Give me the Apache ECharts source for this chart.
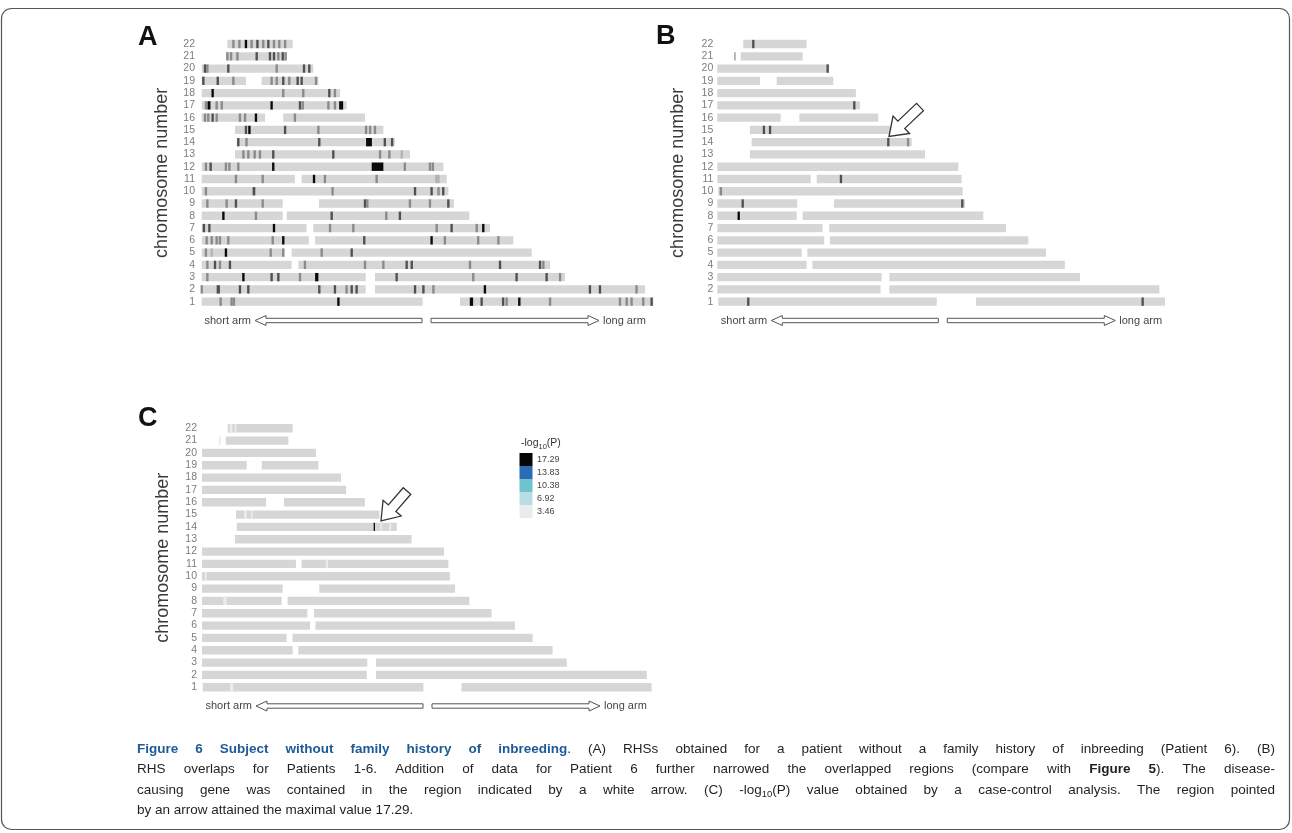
<!DOCTYPE html>
<html><head><meta charset="utf-8">
<script src="https://cdn.jsdelivr.net/npm/echarts@6/dist/echarts.min.js"></script>
<style>html,body{margin:0;padding:0;background:#fff}#c{width:1292px;height:833px}</style>
</head><body><div id="c"></div>
<script>
// ---------- DATA ----------
const chromosomes = ['1','2','3','4','5','6','7','8','9','10','11','12','13','14','15','16','17','18','19','20','21','22'];

// [chromosome, start Mb, end Mb]
const aSegments = [
[1,0.4,121.8],[1,142.3,248.5],[2,0,90.5],[2,95.6,244],[3,0.4,90.5],[3,95.6,200],
[4,0.4,49.8],[4,53.5,191.8],[5,0.4,45.8],[5,49.8,181.7],[6,0.4,59.3],[6,62.6,171.6],
[7,0.4,58],[7,61.7,158.8],[8,0.4,44.9],[8,47.1,147.4],[9,0.4,44.9],[9,64.8,139],
[10,0.4,135.9],[11,0.4,51.6],[11,55.3,135],[12,0.4,133.2],[13,18.7,114.8],[14,19.6,106.6],
[15,18.7,100.2],[16,0.4,35.2],[16,45.2,90.1],[17,0.4,80],[18,0.4,76.4],[19,0.4,24.7],
[19,33.3,64.5],[20,0.4,61.7],[21,13.7,47.1],[22,14.5,50.4]
];
// [chromosome, position Mb, darkness level 1-4, width Mb]
const aMarks = [
[22,17.8,2],[22,21.1,2],[22,24.7,4],[22,27.8,2],[22,31,3],[22,34.2,2],[22,37,3],[22,40.1,2],[22,43,2],[22,46.2,2],
[21,14.5,2],[21,16.5,2],[21,20,2],[21,30.6,3],[21,37.9,3],[21,40.1,3],[21,42.5,2],[21,44.9,3],[21,46.5,2],
[20,2.2,3],[20,3.5,2],[20,15,3],[20,41.6,2],[20,56.6,3],[20,59.5,3],
[19,1.3,3],[19,9.2,3],[19,17.8,2],[19,38.8,2],[19,41.6,2],[19,45.2,3],[19,48.5,2],[19,53.1,3],[19,55.3,3],[19,63.2,2],
[18,6.4,4],[18,45.2,2],[18,56.2,2],[18,70.5,3],[18,73.6,2],
[17,2.7,2],[17,4.4,4,1.6],[17,8.6,2],[17,11.4,2],[17,38.8,4],[17,54.4,3],[17,55.9,2],[17,70,2],[17,73.6,2],[17,77,4,2.2],
[16,2.2,2],[16,4,2],[16,6.4,3],[16,8.6,2],[16,21.4,2],[16,24.2,2],[16,30.2,4],[16,51.6,2],
[15,24.7,3],[15,26.6,4],[15,46.2,3],[15,64.5,2],[15,90.7,2],[15,92.9,2],[15,95.6,2],
[14,20.5,3],[14,25,2],[14,65,3],[14,92.3,4,3.2],[14,101,3],[14,105,3],
[13,23.3,2],[13,26,2],[13,29.5,2],[13,32.4,2],[13,39.7,3],[13,72.7,3],[13,98.4,2],[13,103.5,2],[13,110.3,1],
[12,2.7,2],[12,5.3,3],[12,13.7,2],[12,15.6,2],[12,20.5,2],[12,39.7,4],[12,97,4,6.4],[12,112,2],[12,125.8,2],[12,127.4,2],
[11,19.2,2],[11,33.9,2],[11,62.1,4],[11,68.1,2],[11,96.5,2],[11,129.9,1,2.5],
[10,2.7,2],[10,29.1,3,1.5],[10,72.3,2],[10,117.6,3],[10,126.7,3],[10,130.5,2],[10,133.1,3],
[9,3.5,2],[9,14.1,2],[9,19.2,3],[9,33.9,2],[9,90.1,3],[9,91.4,2],[9,114.8,2],[9,125.8,2],[9,135.9,3],
[8,12.3,4],[8,30.2,2],[8,71.8,3],[8,101.8,2],[8,109.3,3],
[7,1.6,3],[7,4.6,3],[7,40.1,4],[7,70.9,2],[7,83.7,2],[7,129.5,2],[7,137.7,3],[7,151.5,2],[7,155.1,4],
[6,3.1,2],[6,5.9,2],[6,8.6,2],[6,10.4,2],[6,15,2],[6,39.4,2],[6,45.2,4],[6,89.7,3],[6,126.7,4],[6,134,2],[6,152.3,2],[6,163.4,2],
[5,2.7,2],[5,5.9,1],[5,13.7,4],[5,38.3,2],[5,45.2,2],[5,66.3,2],[5,82.8,3],
[4,3.5,2],[4,7.7,3],[4,10.4,2],[4,15.9,3],[4,57.1,2],[4,90.1,2],[4,100.2,2],[4,113,3],[4,115.8,3],[4,147.8,2],[4,164.3,3],[4,186.3,3],[4,188.1,2],
[3,3.5,2],[3,23.3,4],[3,38.8,3],[3,42.5,3],[3,54.4,2],[3,63.6,4,1.8],[3,107.5,3],[3,149.6,2],[3,173.4,3],[3,189.9,3],[3,197.3,2],
[2,0.4,2],[2,9.5,3,1.8],[2,21.4,3],[2,26,3],[2,65,3],[2,73.6,3],[2,80,2],[2,82.8,3],[2,85.5,3],[2,117.6,3],[2,122.2,3],[2,127.7,2],[2,156,4],[2,213.7,3],[2,219.2,3],[2,239.3,2],
[1,10.8,2],[1,16.8,2],[1,18.1,2],[1,75.5,4],[1,148.6,4,1.8],[1,154.2,3],[1,166,3],[1,167.9,2],[1,174.9,4],[1,191.8,2],[1,230.2,2],[1,233.9,2],[1,236.6,2],[1,243,2],[1,247.6,3]
];

const bSegments = [
[1,0.5,121.9],[1,143.7,248.7],[2,0,90.7],[2,95.6,245.6],[3,0,91.3],[3,95.6,201.5],
[4,0,49.6],[4,52.8,193.1],[5,0,46.9],[5,50,182.6],[6,0,59.4],[6,62.6,172.8],
[7,0,58.5],[7,62.2,160.4],[8,0,44.1],[8,47.4,147.8],[9,0,44.4],[9,64.8,137.6],
[10,0.5,136.3],[11,0,51.9],[11,55.2,135.7],[12,0,133.9],[13,18.1,115.4],[14,19.1,108],
[15,18.1,96],[16,0,35.2],[16,45.6,89.4],[17,0,79.3],[18,0,77],[19,0,23.7],[19,33,64.4],
[20,0,62.2],[21,13,47.4],[22,14.4,49.6]
];
const bMarks = [
[22,20,3],[21,9.8,2,0.6],[20,61.3,3],[17,76.1,3],[15,25.9,3],[15,29.3,3],[14,95,3],[14,106,2],
[11,68.7,3],[10,2,2],[9,14.1,3],[9,136.1,3],[8,11.9,4],[1,17.2,3],[1,236.3,3]
];

const cSegments = [
[1,0.4,122.3],[1,143.4,248.4],[2,0,91],[2,96.1,245.7],[3,0,91.3],[3,96.1,201.5],
[4,0,50.1],[4,53.2,193.7],[5,0,46.8],[5,50,182.7],[6,0,59.7],[6,62.7,172.9],
[7,0,58.2],[7,61.9,160],[8,0,44],[8,47.3,147.7],[9,0,44.6],[9,64.8,139.8],
[10,0,137],[11,0,51.9],[11,55,136.1],[12,0,133.7],[13,18.2,115.8],[14,19.2,107.6],
[15,18.8,98],[16,0,35.4],[16,45.3,90],[17,0,79.6],[18,0,76.8],[19,0,24.7],[19,33,64.3],
[20,0,63],[21,9.6,10.1],[21,13.1,47.7],[22,14.2,50.1]
];
// [chromosome, position Mb, legend class index (0 = highest), width Mb]
const cMarks = [
[22,16,4,1.5],[22,18.5,4,1],[15,24,4,1.5],[15,27.5,4,1],[14,95.2,0,0.7],[14,99,4,1],[14,104,4,1],
[8,12.7,4,1.8],[1,16.4,4,1.8],[11,69,4,1.2],[10,2,4,1]
];

const legendValues = ['17.29','13.83','10.38','6.92','3.46'];
const legendColors = ['#060606','#2c6bb5','#6fc3cc','#b9dde5','#e8eced'];

const captionLines = [
 [['Figure 6 Subject without family history of inbreeding','t'],['. (A) RHSs obtained for a patient without a family history of inbreeding (Patient 6). (B)','n']],
 [['RHS overlaps for Patients 1-6. Addition of data for Patient 6 further narrowed the overlapped regions (compare with ','n'],['Figure 5','b'],['). The disease-','n']],
 [['causing gene was contained in the region indicated by a white arrow. (C) -log','n'],['10','s'],['(P) value obtained by a case-control analysis. The region pointed','n']],
 [['by an arrow attained the maximal value 17.29.','n']]
];

// ---------- STYLE / LAYOUT ----------
const FAM = "'Liberation Sans', Arial, sans-serif";
const BAR = '#d6d6d6';
const LEVEL = ['#e0e0e0','#b4b4b4','#8a8a8a','#505050','#0a0a0a'];
const grids = [
  {left:201, top:37.9, width:455, height:269.9},
  {left:717.3, top:37.9, width:450, height:269.9},
  {left:202, top:422.1, width:452.5, height:271.3}
];
const labelMargins = [6, 4, 5];

function segItem(params, api) {
  const c = api.value(0);
  const p0 = api.coord([api.value(1), c]);
  const p1 = api.coord([api.value(2), c]);
  const h = api.size([0, 1])[1] * 0.68;
  return {type:'rect', shape:{x:p0[0], y:p0[1]-h/2, width:p1[0]-p0[0], height:h}, style:{fill:BAR}};
}
function markItemFactory(colors) {
  return function(params, api) {
    const c = api.value(0);
    const p = api.coord([api.value(1), c]);
    const sz = api.size([api.value(3), 1]);
    const w = Math.max(sz[0], 1.2);
    const h = sz[1] * 0.68;
    return {type:'rect', shape:{x:p[0]-w/2, y:p[1]-h/2, width:w, height:h}, style:{fill:colors[api.value(2)]}};
  };
}

const panels = [
  {segs:aSegments, marks:aMarks, colors:LEVEL},
  {segs:bSegments, marks:bMarks, colors:LEVEL},
  {segs:cSegments, marks:cMarks, colors:legendColors}
];

const series = [];
panels.forEach((p, i) => {
  series.push({type:'custom', xAxisIndex:i, yAxisIndex:i, silent:true, z:2, renderItem:segItem,
    encode:{x:[1,2], y:0}, data:p.segs.map(s => [s[0]-1, s[1], s[2]])});
  series.push({type:'custom', xAxisIndex:i, yAxisIndex:i, silent:true, z:3, renderItem:markItemFactory(p.colors),
    encode:{x:1, y:0}, data:p.marks.map(m => [m[0]-1, m[1], m[2], m[3] || 1.3])});
});

// ---------- GRAPHIC ANNOTATIONS ----------
const graphic = [];
graphic.push({type:'rect', shape:{x:1.5, y:8.5, width:1288, height:821, r:10}, style:{fill:'none', stroke:'#555', lineWidth:1.2}, z:0});

function label(x, y, text, size, weight, color, align) {
  graphic.push({type:'text', x:x, y:y, z:10, style:{text:text, fontSize:size, fontWeight:weight||'normal', fontFamily:FAM, fill:color||'#222', align:align||'left', verticalAlign:'middle'}});
}
label(138, 38, 'A', 27, 'bold', '#111');
label(656, 37, 'B', 27, 'bold', '#111');
label(138, 418.5, 'C', 27, 'bold', '#111');

function armArrows(gx, y) {
  const hl = 11, hh = 5, sh = 2.2;
  const t1 = gx + 54, e1 = gx + 221, s2 = gx + 230, t2 = gx + 398;
  graphic.push({type:'polygon', z:10, shape:{points:[[t1,y],[t1+hl,y-hh],[t1+hl,y-sh],[e1,y-sh],[e1,y+sh],[t1+hl,y+sh],[t1+hl,y+hh]]}, style:{fill:'#fff', stroke:'#555', lineWidth:1}});
  graphic.push({type:'polygon', z:10, shape:{points:[[t2,y],[t2-hl,y-hh],[t2-hl,y-sh],[s2,y-sh],[s2,y+sh],[t2-hl,y+sh],[t2-hl,y+hh]]}, style:{fill:'#fff', stroke:'#555', lineWidth:1}});
  label(gx + 3.5, y, 'short arm', 11, 'normal', '#444');
  label(t2 + 4, y, 'long arm', 11, 'normal', '#444');
}
armArrows(grids[0].left, 320.5);
armArrows(grids[1].left, 320.5);
armArrows(grids[2].left, 706);

function blockArrow(tx, ty, px, py) {
  const dx = px - tx, dy = py - ty, L = Math.hypot(dx, dy);
  const ux = dx / L, uy = dy / L, nx = -uy, ny = ux;
  const hl = 17, hw = 12, sw = 5;
  const bx = px - ux*hl, by = py - uy*hl;
  const pts = [[px,py],[bx+nx*hw,by+ny*hw],[bx+nx*sw,by+ny*sw],[tx+nx*sw,ty+ny*sw],[tx-nx*sw,ty-ny*sw],[bx-nx*sw,by-ny*sw],[bx-nx*hw,by-ny*hw]];
  graphic.push({type:'polygon', z:11, shape:{points:pts}, style:{fill:'#fff', stroke:'#333', lineWidth:1.3}});
}
blockArrow(920, 107, 889, 136.5);
blockArrow(407, 491, 381, 521);

// legend for panel C
(function legend() {
  const ctx = document.createElement('canvas').getContext('2d');
  const w = (t, s) => { ctx.font = `normal ${s}px ${FAM}`; return ctx.measureText(t).width; };
  let x = 521;
  label(x, 443, '-log', 10.5, 'normal', '#333');
  x += w('-log', 10.5);
  graphic.push({type:'text', x:x, y:446.5, z:10, style:{text:'10', fontSize:7.5, fontFamily:FAM, fill:'#333', verticalAlign:'middle'}});
  x += w('10', 7.5);
  label(x, 443, '(P)', 10.5, 'normal', '#333');
})();
legendValues.forEach((v, i) => {
  const y0 = 453 + i * 13;
  graphic.push({type:'rect', z:10, shape:{x:519.5, y:y0, width:13, height:13}, style:{fill:legendColors[i]}});
  label(537, y0 + 6.5, v, 9, 'normal', '#444');
});

// caption with justified lines
(function buildCaption() {
  const ctx = document.createElement('canvas').getContext('2d');
  const st = {
    n:{w:'normal', s:13.5, c:'#231f20', dy:0},
    t:{w:'bold', s:13.5, c:'#1d5a96', dy:0},
    b:{w:'bold', s:13.5, c:'#231f20', dy:0},
    s:{w:'normal', s:9.5, c:'#231f20', dy:4}
  };
  const font = s => `${s.w} ${s.s}px ${FAM}`;
  const measure = (t, s) => { ctx.font = font(s); return ctx.measureText(t).width; };
  const left = 137, right = 1275, ys = [749, 769.5, 790, 810.5];
  captionLines.forEach((line, li) => {
    const words = [[]];
    line.forEach(([text, key]) => {
      text.split(' ').forEach((p, i) => { if (i > 0) words.push([]); if (p) words[words.length-1].push([p, key]); });
    });
    const ws = words.filter(w => w.length);
    const widths = ws.map(w => w.reduce((a, [t, k]) => a + measure(t, st[k]), 0));
    const total = widths.reduce((a, b) => a + b, 0);
    const justify = li < captionLines.length - 1;
    const gap = justify ? (right - left - total) / (ws.length - 1) : measure(' ', st.n);
    let x = left;
    ws.forEach((w, wi) => {
      let px = x;
      w.forEach(([t, k]) => {
        const s = st[k];
        graphic.push({type:'text', x:px, y:ys[li] + s.dy, z:10, style:{text:t, fontSize:s.s, fontWeight:s.w, fontFamily:FAM, fill:s.c, verticalAlign:'middle'}});
        px += measure(t, s);
      });
      x += widths[wi] + gap;
    });
  });
})();

// ---------- CHART ----------
const chart = echarts.init(document.getElementById('c'), null, {renderer:'canvas'});
chart.setOption({
  animation:false,
  backgroundColor:'#fff',
  grid: grids,
  xAxis: grids.map((g, i) => ({type:'value', gridIndex:i, min:0, max:250, show:false})),
  yAxis: grids.map((g, i) => ({
    type:'category', gridIndex:i, data:chromosomes,
    axisLine:{show:false}, axisTick:{show:false}, splitLine:{show:false},
    axisLabel:{fontSize:10.5, color:'#7d7d7d', margin:labelMargins[i], fontFamily:FAM, interval:0},
    name:'chromosome number', nameLocation:'middle', nameRotate:90, nameGap:30,
    nameTextStyle:{fontSize:18, color:'#3a3a3a', fontFamily:FAM}
  })),
  series: series,
  graphic: graphic
});
</script>
</body></html>
